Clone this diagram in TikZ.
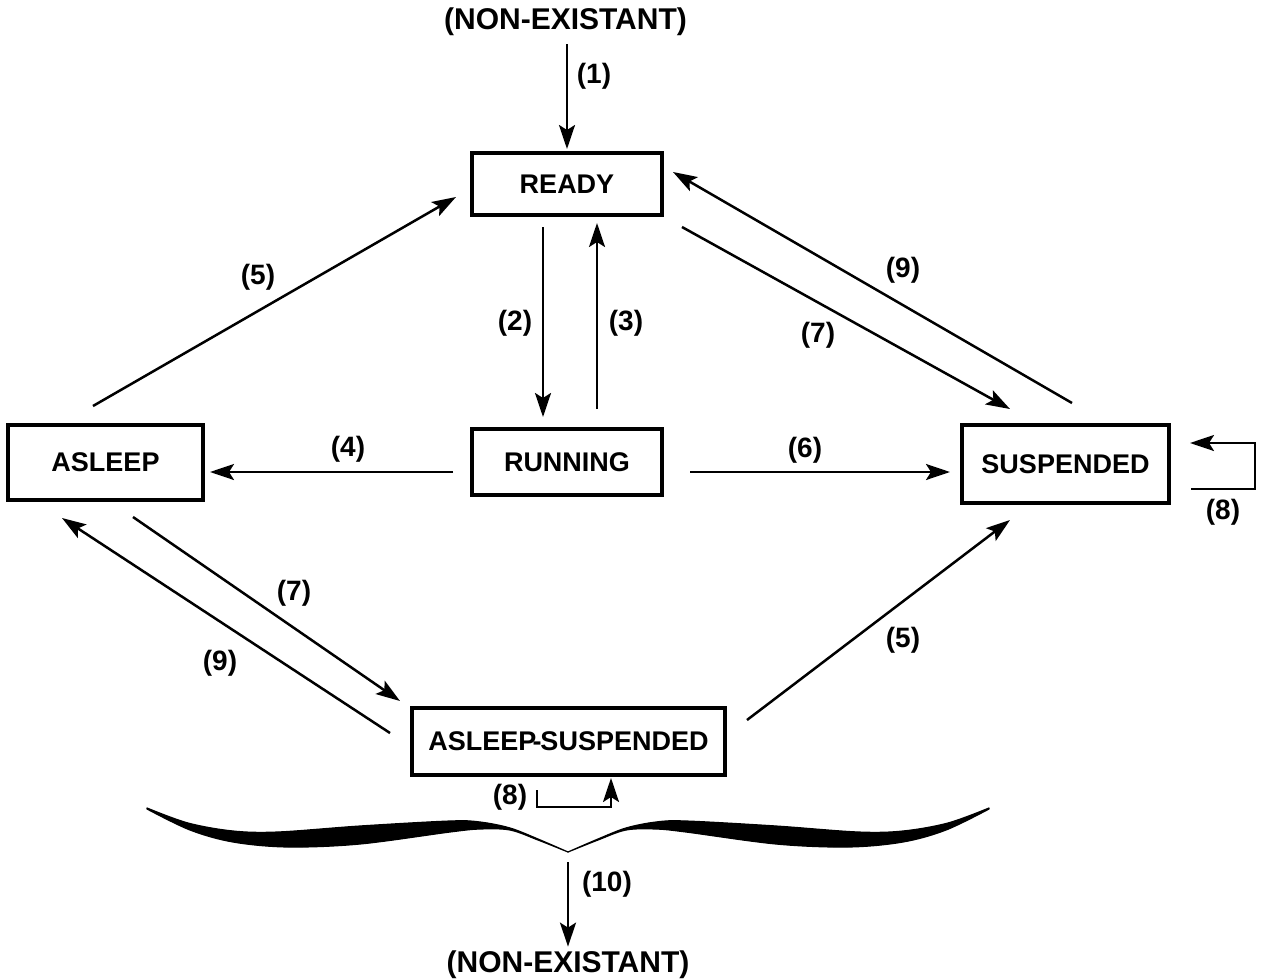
\documentclass[tikz,border=0pt]{standalone}
\usepackage{fontspec}
\setmainfont{Liberation Sans}
\usetikzlibrary{arrows.meta}

\begin{document}
\begin{tikzpicture}[x=0.5pt,y=-0.5pt,
  state/.style={draw, line width=2pt, font=\fontsize{13.5}{16}\selectfont\bfseries, inner sep=0pt},
  lbl/.style={font=\fontsize{14}{16}\selectfont\bfseries, inner sep=0pt},
  term/.style={font=\fontsize{15}{18}\selectfont\bfseries, inner sep=0pt},
  trans/.style={line width=1.25pt, -{Stealth[length=12pt,width=8pt,inset=2.5pt]}},
]
\useasboundingbox (0,0) rectangle (1265,980);

% process states
\node[state, minimum width=95pt,  minimum height=31pt]   (ready)     at (567,184)    {READY};
\node[state, minimum width=95pt,  minimum height=33pt]   (running)   at (567,462)    {RUNNING};
\node[state, minimum width=97.5pt,minimum height=37.5pt] (asleep)    at (105.5,462.5){ASLEEP};
\node[state, minimum width=103.5pt,minimum height=39pt]  (suspended) at (1065.5,464) {SUSPENDED};
\node[state, minimum width=156.5pt,minimum height=33.5pt](aslsusp)   at (568.5,741.5){ASLEEP\kern-2pt-\kern-0.5pt SUSPENDED};

% creation and deletion
\node[term] (ntop) at (565.5,22)  {(NON-EXISTANT)};
\node[term] (nbot) at (568,965)   {(NON-EXISTANT)};

% transitions
\draw[trans] ([yshift=-4pt]ntop.south -| ready.north) -- ([yshift=1pt]ready.north);
\node[lbl] (l1) at (594,76) {(1)};

\draw[trans] ([shift={(-24,10)}]ready.south) -- ([shift={(-24,-10)}]running.north);
\node[lbl] (l2) at (515,323) {(2)};
\draw[trans] ([shift={(30,-18)}]running.north) -- ([shift={(30,6)}]ready.south);
\node[lbl] (l3) at (626,323) {(3)};

\draw[trans] ([shift={(-12.5,-17)}]asleep.north) -- ([shift={(-14,13)}]ready.west);
\node[lbl] (l5a) at (258,277) {(5)};

\draw[trans] ([shift={(-17,10)}]running.west) -- ([shift={(5,9.5)}]asleep.east);
\node[lbl] (l4) at (348,449) {(4)};

\draw[trans] ([shift={(26,10)}]running.east) -- ([shift={(-10,8)}]suspended.west);
\node[lbl] (l6) at (805,450) {(6)};

\draw[trans] ([shift={(18,10)}]ready.south east) -- ([shift={(-55.5,-14)}]suspended.north);
\node[lbl] (l7a) at (818,335) {(7)};
\draw[trans] ([shift={(6.5,-20)}]suspended.north) -- ([shift={(9,-12)}]ready.east);
\node[lbl] (l9a) at (903,270) {(9)};

\coordinate (s8a) at ([shift={(20,25)}]suspended.east);
\coordinate (e8a) at ([shift={(19,-21)}]suspended.east);
\draw[trans] (s8a) -- ++(64,0) |- (e8a);
\node[lbl] (l8a) at (1223,512) {(8)};

\draw[trans] ([shift={(27.5,15)}]asleep.south) -- ([shift={(-10,-5)}]aslsusp.north west);
\node[lbl] (l7b) at (294,593) {(7)};
\draw[trans] ([shift={(-20,-8.5)}]aslsusp.west) -- ([shift={(-43.5,16)}]asleep.south);
\node[lbl] (l9b) at (220,663) {(9)};

\draw[trans] ([shift={(20,-21.5)}]aslsusp.east) -- ([shift={(-55.5,15)}]suspended.south);
\node[lbl] (l5b) at (903,640) {(5)};

\coordinate (s8b) at ([shift={(-31.5,13)}]aslsusp.south);
\coordinate (e8b) at ([shift={(42.5,1)}]aslsusp.south);
\draw[trans] (s8b) |- ([shift={(0,29)}]e8b) -- (e8b);
\node[lbl] (l8b) at (510,797) {(8)};

% brace gathering every state into termination
\coordinate (bracetip) at (568,852);
\foreach \sx in {1,-1}{
  \begin{scope}[shift={(bracetip)}, xscale=\sx]
    \filldraw[line width=0.6pt, line join=round]
      plot[smooth, tension=0.55] coordinates {(-421,-44) (-380,-29) (-335,-21) (-290,-20) (-208,-26) (-118,-31) (-88,-30) (-58,-24) (-30,-13) (0,0)}
      -- plot[smooth, tension=0.55] coordinates {(0,0) (-30,-12) (-58,-22) (-88,-23) (-118,-20) (-208,-8) (-280,-5) (-335,-10) (-378,-22) (-421,-43)}
      -- cycle;
  \end{scope}
}
\draw[trans] ([yshift=-5pt]bracetip) -- ([yshift=2pt]nbot.north);
\node[lbl] (l10) at (607,884) {(10)};
\end{tikzpicture}
\end{document}
